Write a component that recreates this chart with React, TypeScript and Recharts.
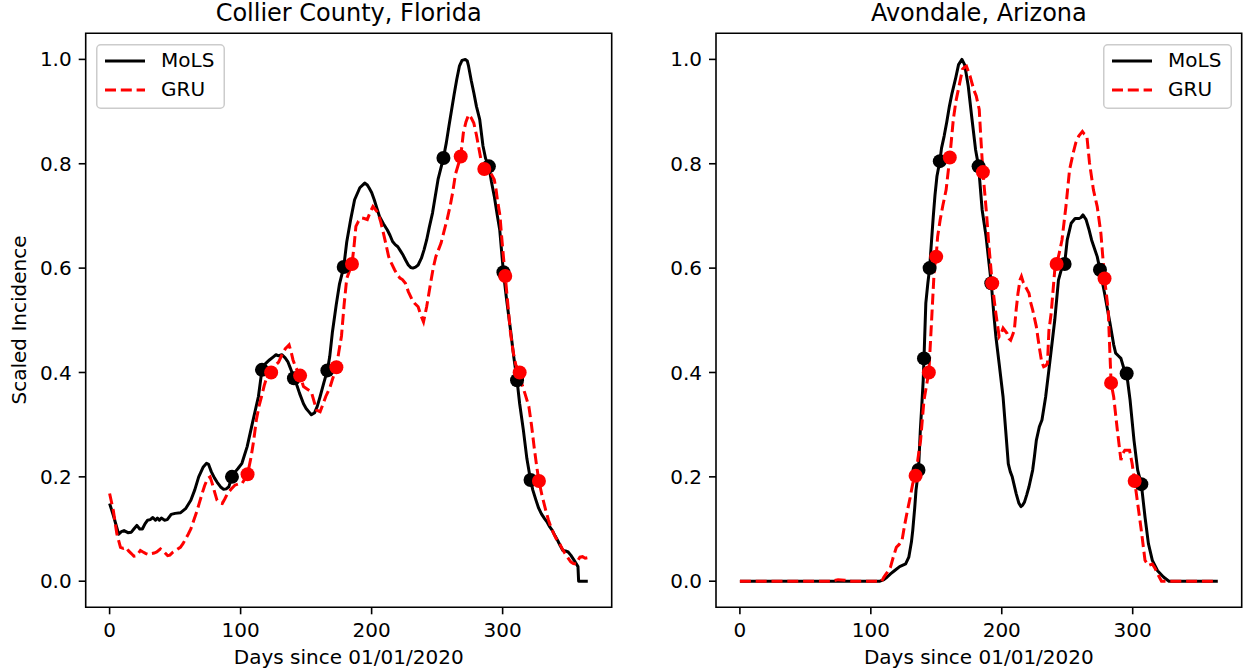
import React from 'react';
import { ComposedChart, Line, Scatter, XAxis, YAxis, ReferenceArea } from 'recharts';

const FONT = '"DejaVu Sans", "Liberation Sans", sans-serif';

// ---- Data: [day since 01/01/2020, scaled incidence] ----
const collierMoLS: [number, number][] = [
  [0, 0.149], [3, 0.125], [6.9, 0.09], [9, 0.095], [11, 0.097], [14, 0.093], [16.6, 0.094], [18.5, 0.1], [20.8, 0.107], [23, 0.1], [25, 0.1], [27, 0.11], [29, 0.117], [31, 0.118], [33, 0.122], [35, 0.117], [36.5, 0.121], [38, 0.117], [39.5, 0.121], [42, 0.117], [44, 0.118], [47, 0.128], [50, 0.13], [54, 0.131], [58, 0.139], [62, 0.155], [65, 0.175], [68, 0.2], [71.5, 0.219], [74, 0.226], [75.5, 0.224], [77.6, 0.21], [80, 0.198], [82, 0.19], [85, 0.18], [87, 0.176], [89, 0.177], [91, 0.181], [93.4, 0.2], [96, 0.21], [98, 0.216], [101, 0.226], [105, 0.258], [109, 0.303], [113.6, 0.354], [116.3, 0.405], [119, 0.417], [122, 0.424], [125, 0.43], [127, 0.434], [129, 0.432], [131.6, 0.434], [134, 0.428], [136, 0.421], [138.5, 0.405], [140.7, 0.389], [143, 0.375], [145, 0.36], [148, 0.34], [150, 0.331], [152, 0.325], [154, 0.319], [156.5, 0.323], [158.5, 0.335], [160.7, 0.354], [163.5, 0.38], [166.2, 0.404], [168, 0.43], [170, 0.476], [173, 0.53], [175.5, 0.57], [178.7, 0.602], [181, 0.65], [184, 0.693], [187, 0.731], [191, 0.754], [194.7, 0.763], [196.5, 0.76], [198, 0.754], [200, 0.745], [202, 0.731], [204, 0.715], [206, 0.699], [209, 0.685], [212, 0.673], [214, 0.663], [216, 0.651], [218, 0.645], [220, 0.641], [222, 0.633], [224, 0.625], [226, 0.615], [228, 0.606], [230, 0.601], [231.5, 0.6], [233.5, 0.602], [235.5, 0.606], [238, 0.619], [240, 0.635], [242, 0.654], [244, 0.678], [246.5, 0.706], [250.7, 0.77], [254.8, 0.811], [257, 0.84], [259, 0.872], [263, 0.933], [265, 0.962], [267, 0.987], [269, 0.998], [271.5, 1.0], [273, 0.997], [274, 0.987], [276, 0.96], [278, 0.936], [280, 0.91], [282.5, 0.885], [285, 0.834], [287, 0.81], [289.5, 0.795], [291.5, 0.765], [293.6, 0.738], [296, 0.7], [297.8, 0.673], [300.6, 0.592], [303, 0.54], [306, 0.482], [308.5, 0.43], [311, 0.385], [313, 0.34], [315.8, 0.29], [318.5, 0.235], [321.3, 0.194], [323, 0.175], [325.5, 0.155], [327.5, 0.14], [329.6, 0.129], [332, 0.12], [334, 0.113], [336, 0.104], [338, 0.097], [340, 0.087], [342, 0.078], [344, 0.068], [346, 0.059], [348, 0.058], [350, 0.056], [352, 0.05], [354.6, 0.04], [357.5, 0.028], [358, 0.0], [365, 0.0],
];

const collierGRU: [number, number][] = [
  [0, 0.168], [2.8, 0.136], [5.5, 0.091], [8.3, 0.065], [10.5, 0.063], [12.5, 0.065], [14.5, 0.058], [16.6, 0.053], [18.5, 0.048], [20.8, 0.049], [23.5, 0.059], [25.5, 0.056], [27.7, 0.053], [30, 0.051], [31.9, 0.053], [34, 0.054], [36, 0.056], [38.8, 0.062], [41.6, 0.056], [44.3, 0.049], [46, 0.05], [48.5, 0.056], [51, 0.06], [54, 0.065], [56, 0.072], [58, 0.081], [60, 0.09], [62, 0.1], [64, 0.115], [66.5, 0.133], [68.5, 0.15], [70.6, 0.168], [72.5, 0.183], [74.8, 0.197], [76.7, 0.2], [78, 0.19], [79, 0.181], [80.5, 0.168], [82, 0.155], [84, 0.15], [86, 0.149], [88, 0.158], [90, 0.168], [93, 0.177], [95.6, 0.184], [98, 0.186], [101, 0.187], [103, 0.195], [105.3, 0.205], [108, 0.238], [110, 0.27], [112, 0.309], [114, 0.335], [116, 0.354], [118, 0.375], [120.5, 0.395], [123.3, 0.4], [126, 0.412], [129, 0.42], [131.6, 0.434], [134, 0.445], [137, 0.453], [138.5, 0.44], [140, 0.424], [142, 0.41], [145.4, 0.394], [148, 0.373], [151, 0.368], [154, 0.363], [156, 0.345], [158, 0.328], [160.7, 0.325], [163, 0.34], [165, 0.354], [168, 0.37], [170, 0.386], [173.1, 0.41], [175, 0.44], [177, 0.47], [179, 0.53], [181, 0.58], [185, 0.608], [186.5, 0.64], [188, 0.68], [190, 0.69], [192.5, 0.696], [194.5, 0.695], [196.7, 0.693], [199, 0.708], [201, 0.718], [203, 0.712], [205, 0.705], [207, 0.688], [209, 0.667], [211, 0.645], [213, 0.622], [215, 0.61], [217.5, 0.597], [219.5, 0.588], [221.6, 0.581], [223.5, 0.578], [225.8, 0.571], [228, 0.555], [231, 0.539], [233, 0.532], [235.5, 0.526], [237.5, 0.51], [239.6, 0.497], [242, 0.526], [245, 0.571], [247, 0.6], [249, 0.622], [251, 0.635], [253, 0.648], [255, 0.668], [257.6, 0.693], [260, 0.72], [261.8, 0.744], [264, 0.78], [268, 0.814], [270, 0.859], [272, 0.88], [274, 0.894], [276, 0.888], [278, 0.878], [280, 0.855], [282.5, 0.821], [284, 0.8], [286, 0.79], [289, 0.789], [291, 0.782], [293.6, 0.77], [295, 0.75], [296, 0.731], [298, 0.7], [299, 0.667], [300.5, 0.625], [302, 0.585], [304, 0.53], [306, 0.476], [308, 0.44], [310, 0.415], [313, 0.4], [315, 0.375], [317, 0.36], [320, 0.335], [322, 0.3], [324, 0.258], [326, 0.22], [327.7, 0.192], [330, 0.165], [331, 0.155], [333, 0.135], [335, 0.117], [337, 0.103], [339, 0.091], [341, 0.081], [343.5, 0.072], [345.5, 0.062], [347.6, 0.053], [350, 0.044], [352, 0.037], [354, 0.034], [356, 0.033], [357.5, 0.04], [359, 0.046], [361, 0.047], [363, 0.044], [365, 0.045],
];

const collierMoLSDots: [number, number][] = [
  [93.4, 0.2], [116.3, 0.405], [140.7, 0.389], [166.2, 0.404], [178.7, 0.602], [254.8, 0.811], [289.5, 0.795], [300.6, 0.592], [311, 0.385], [321.3, 0.194],
];
const collierGRUDots: [number, number][] = [
  [105.3, 0.205], [123.3, 0.4], [145.4, 0.394], [173.1, 0.41], [185, 0.608], [268, 0.814], [286, 0.79], [302, 0.585], [313, 0.4], [327.7, 0.192],
];

const avondaleMoLS: [number, number][] = [
  [0, 0], [107, 0], [110, 0.003], [112.5, 0.008], [115, 0.014], [118, 0.02], [122, 0.028], [126.6, 0.033], [129, 0.046], [131, 0.075], [132, 0.097], [133.5, 0.14], [134.5, 0.174], [136.4, 0.213], [137.8, 0.289], [139, 0.34], [140, 0.385], [140.6, 0.427], [142, 0.533], [143.5, 0.57], [144.9, 0.6], [146.3, 0.65], [147.7, 0.699], [149, 0.74], [150.5, 0.776], [152.7, 0.805], [154, 0.83], [156, 0.853], [158, 0.88], [160, 0.91], [162, 0.935], [164.6, 0.962], [167, 0.99], [169.6, 1.0], [171.6, 0.99], [173, 0.97], [174.4, 0.949], [177, 0.891], [180, 0.827], [182.3, 0.795], [185, 0.712], [188, 0.661], [190, 0.615], [192, 0.571], [194, 0.51], [195.5, 0.469], [198, 0.417], [201, 0.353], [203, 0.289], [205, 0.225], [206.5, 0.21], [208, 0.2], [211, 0.168], [213, 0.15], [214.6, 0.143], [216, 0.146], [217.4, 0.152], [219, 0.165], [220.8, 0.181], [223.6, 0.213], [225, 0.24], [226.4, 0.27], [228.7, 0.296], [230.7, 0.309], [233.5, 0.353], [236, 0.405], [239, 0.469], [240.5, 0.501], [243.3, 0.577], [245.5, 0.597], [248, 0.608], [250, 0.654], [253, 0.686], [256, 0.695], [258.8, 0.695], [260.5, 0.697], [262, 0.702], [264.4, 0.693], [266.5, 0.675], [268.6, 0.654], [272.9, 0.622], [275, 0.597], [278.5, 0.552], [282.7, 0.494], [285.5, 0.453], [287, 0.437], [289, 0.432], [291, 0.427], [293, 0.41], [295.4, 0.398], [298, 0.347], [301, 0.27], [303.8, 0.213], [306.6, 0.186], [309.4, 0.123], [312, 0.072], [315, 0.04], [319, 0.02], [323.5, 0.008], [327.7, 0], [365, 0],
];

const avondaleGRU: [number, number][] = [
  [0, 0], [70, 0], [75, 0.003], [80, 0.002], [85, 0], [108.3, 0], [110, 0.008], [112.5, 0.017], [115, 0.027], [117, 0.045], [119.5, 0.065], [121.5, 0.07], [123.8, 0.078], [126, 0.11], [128, 0.136], [130, 0.16], [132, 0.187], [134.2, 0.202], [136, 0.235], [138, 0.27], [140.6, 0.347], [142.5, 0.375], [144.3, 0.4], [146, 0.48], [148.5, 0.6], [149.9, 0.622], [151, 0.66], [153, 0.693], [155, 0.72], [157.5, 0.75], [160.3, 0.812], [163, 0.885], [165, 0.92], [167.4, 0.949], [170, 0.981], [171.5, 0.985], [173, 0.987], [175.8, 0.968], [178.6, 0.942], [180.5, 0.93], [182.8, 0.904], [184, 0.85], [185.6, 0.784], [187, 0.744], [188.5, 0.7], [190, 0.648], [192.7, 0.571], [195.5, 0.513], [198, 0.469], [199.5, 0.475], [201, 0.485], [202.5, 0.48], [204, 0.475], [205.5, 0.465], [206.8, 0.462], [208, 0.47], [209.6, 0.481], [211, 0.52], [212.4, 0.552], [214, 0.578], [215, 0.584], [216.5, 0.572], [218, 0.565], [220.8, 0.552], [222, 0.535], [223.6, 0.52], [226.4, 0.488], [228, 0.46], [229, 0.443], [230.5, 0.42], [232, 0.411], [233.5, 0.413], [234.9, 0.417], [236, 0.48], [237.7, 0.513], [240.5, 0.597], [242, 0.608], [244, 0.63], [246, 0.654], [249, 0.718], [251.8, 0.789], [254.6, 0.821], [256.5, 0.84], [258.8, 0.853], [261.6, 0.862], [263, 0.857], [265, 0.853], [267, 0.802], [270, 0.75], [272.9, 0.718], [275.7, 0.667], [278.5, 0.58], [281.3, 0.52], [283.5, 0.38], [285.5, 0.353], [288.3, 0.289], [291, 0.232], [292.5, 0.245], [294, 0.251], [297.6, 0.251], [299.6, 0.225], [301.5, 0.192], [303.8, 0.149], [306.6, 0.097], [309.4, 0.04], [312, 0.03], [315, 0.033], [317, 0.025], [319, 0.014], [322, 0], [365, 0],
];

const avondaleMoLSDots: [number, number][] = [
  [136.4, 0.213], [140.6, 0.427], [144.9, 0.6], [152.7, 0.805], [182.3, 0.795], [192, 0.571], [248, 0.608], [275, 0.597], [295.4, 0.398], [306.6, 0.186],
];
const avondaleGRUDots: [number, number][] = [
  [134.2, 0.202], [144.3, 0.4], [149.9, 0.622], [160.3, 0.812], [185.6, 0.784], [192.7, 0.571], [241.9, 0.608], [278.5, 0.58], [283.5, 0.38], [301.5, 0.192],
];

const xTicks = [0, 100, 200, 300];
const yTicks = [0, 0.2, 0.4, 0.6, 0.8, 1.0];
const xDomain: [number, number] = [-18.25, 383.25];
const yDomain: [number, number] = [-0.05, 1.05];
const seriesNames = ['MoLS', 'GRU'];
const xLabel = 'Days since 01/01/2020';
const yLabel = 'Scaled Incidence';

const toRows = (arr: [number, number][]) => arr.map(([day, v]) => ({ day, v }));

const MOLS_COLOR = '#000000';
const GRU_COLOR = '#ff0000';
const DASH = '11 4.8';

const dot = (color: string) => (props: any) => (
  <circle cx={props.cx} cy={props.cy} r={7} fill={color} stroke="none" />
);

function Legend({ x, y }: { x: number; y: number }) {
  return (
    <svg style={{ position: 'absolute', left: x, top: y, overflow: 'visible' }} width={129} height={65}>
      <rect x={0.75} y={0.75} width={127.5} height={63.5} rx={4} ry={4} fill="rgba(255,255,255,0.8)" stroke="#cccccc" strokeWidth={1.5} />
      <line x1={9} x2={49} y1={17} y2={17} stroke={MOLS_COLOR} strokeWidth={3} />
      <line x1={9} x2={49} y1={46} y2={46} stroke={GRU_COLOR} strokeWidth={3} strokeDasharray={DASH} />
      <text x={65} y={23} fontSize={20} fontFamily={FONT} fill="#000">{seriesNames[0]}</text>
      <text x={65} y={52} fontSize={20} fontFamily={FONT} fill="#000">{seriesNames[1]}</text>
    </svg>
  );
}

type PanelProps = {
  left: number;
  width: number;
  marginLeft: number;
  marginRight: number;
  title: string;
  mols: [number, number][];
  gru: [number, number][];
  molsDots: [number, number][];
  gruDots: [number, number][];
  legendRight: boolean;
  showYLabel: boolean;
};

const TOP = 33.3;
const BOTTOM = 607.3;
const YAXIS_W = 80;
const XAXIS_H = 60;
const H = 672;

function Panel(p: PanelProps) {
  const plotLeft = p.marginLeft + YAXIS_W;
  const plotRight = p.width - p.marginRight;
  const plotW = plotRight - plotLeft;
  const tickStyle = { fill: '#000', fontSize: 20, fontFamily: FONT };
  return (
    <div style={{ position: 'absolute', left: p.left, top: 0, width: p.width, height: H }}>
      <ComposedChart
        width={p.width}
        height={H}
        margin={{ top: TOP, right: p.marginRight, bottom: H - BOTTOM - XAXIS_H, left: p.marginLeft }}
      >
        <XAxis
          type="number"
          dataKey="day"
          domain={xDomain}
          ticks={xTicks}
          allowDataOverflow
          height={XAXIS_H}
          axisLine={false}
          tickLine={{ stroke: '#000', strokeWidth: 1.6 }}
          tickSize={7}
          tickMargin={8}
          tick={tickStyle}
        />
        <YAxis
          type="number"
          dataKey="v"
          domain={yDomain}
          ticks={yTicks}
          allowDataOverflow
          width={YAXIS_W}
          axisLine={false}
          tickLine={{ stroke: '#000', strokeWidth: 1.6 }}
          tickSize={7}
          tickMargin={7}
          tick={tickStyle}
          tickFormatter={(v: number) => v.toFixed(1)}
        />
        <Line data={toRows(p.mols)} dataKey="v" type="linear" stroke={MOLS_COLOR} strokeWidth={3} dot={false} activeDot={false} isAnimationActive={false} strokeLinejoin="round" />
        <Line data={toRows(p.gru)} dataKey="v" type="linear" stroke={GRU_COLOR} strokeWidth={3} strokeDasharray={DASH} dot={false} activeDot={false} isAnimationActive={false} />
        <Scatter data={toRows(p.molsDots)} dataKey="v" fill={MOLS_COLOR} shape={dot(MOLS_COLOR)} isAnimationActive={false} />
        <Scatter data={toRows(p.gruDots)} dataKey="v" fill={GRU_COLOR} shape={dot(GRU_COLOR)} isAnimationActive={false} />
        <ReferenceArea x1={xDomain[0]} x2={xDomain[1]} y1={yDomain[0]} y2={yDomain[1]} fill="none" fillOpacity={0} stroke="#000" strokeWidth={1.6} ifOverflow="visible" />
      </ComposedChart>
      <div style={{ position: 'absolute', left: plotLeft, width: plotW, top: -1, textAlign: 'center', fontFamily: FONT, fontSize: 24, lineHeight: '28px', color: '#000', whiteSpace: 'nowrap' }}>
        {p.title}
      </div>
      <div style={{ position: 'absolute', left: plotLeft, width: plotW, top: 645.4, textAlign: 'center', fontFamily: FONT, fontSize: 20, lineHeight: '24px', color: '#000', whiteSpace: 'nowrap' }}>
        {xLabel}
      </div>
      {p.showYLabel && (
        <div style={{ position: 'absolute', left: 19.1 - 150, top: (TOP + BOTTOM) / 2 - 12, width: 300, height: 24, textAlign: 'center', fontFamily: FONT, fontSize: 20, lineHeight: '24px', color: '#000', whiteSpace: 'nowrap', transform: 'rotate(-90deg)', transformOrigin: '50% 50%' }}>
          {yLabel}
        </div>
      )}
      <Legend x={p.legendRight ? plotRight - 10 - 129 : plotLeft + 10.3} y={TOP + 10.7} />
    </div>
  );
}

export default function App() {
  return (
    <div style={{ position: 'absolute', left: 0, top: 0, width: 1248, height: 672, background: '#fff', overflow: 'hidden' }}>
      <Panel
        left={0}
        width={640}
        marginLeft={5.7}
        marginRight={28.3}
        title="Collier County, Florida"
        mols={collierMoLS}
        gru={collierGRU}
        molsDots={collierMoLSDots}
        gruDots={collierGRUDots}
        legendRight={false}
        showYLabel={true}
      />
      <Panel
        left={630}
        width={618}
        marginLeft={6}
        marginRight={6.3}
        title="Avondale, Arizona"
        mols={avondaleMoLS}
        gru={avondaleGRU}
        molsDots={avondaleMoLSDots}
        gruDots={avondaleGRUDots}
        legendRight={true}
        showYLabel={false}
      />
    </div>
  );
}
